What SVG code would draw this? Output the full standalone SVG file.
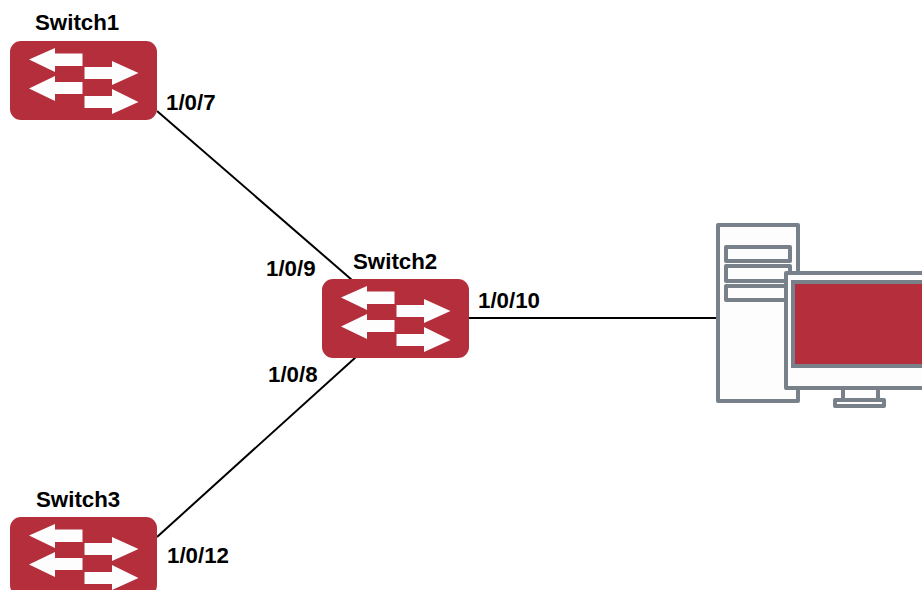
<svg xmlns="http://www.w3.org/2000/svg" width="922" height="590" viewBox="0 0 922 590">
<style>
text{font-family:"Liberation Sans",Arial,sans-serif;font-weight:bold;font-size:22.3px;fill:#000}
.body{fill:#b52e3c}
.arr{fill:#fdfdfd}
.ln{stroke:#000;stroke-width:2;fill:none}
.g{fill:#fdfdfd;stroke:#78808a;stroke-width:4;stroke-linejoin:round}
</style>
<defs>
<g id="sw">
<rect class="body" width="147" height="79" rx="11" ry="11"/>
<path class="arr" d="M19 18.500L45 7V12.500H72.500V25H45V31Z"/>
<path class="arr" d="M19 47.500L45 35V41H72.500V53H45V60Z"/>
<path class="arr" d="M128.500 32L102 20V26H74.500V38H102V44Z"/>
<path class="arr" d="M128.500 61L102 48V55H74.500V67H102V73Z"/>
</g>
</defs>
<rect width="922" height="590" fill="#fff"/>
<g id="connectors">
<line class="ln" x1="157" y1="111" x2="352" y2="280"/>
<line class="ln" x1="157" y1="537" x2="356" y2="357"/>
<line class="ln" x1="469" y1="318" x2="717" y2="318"/>
</g>
<g id="switch1"><use href="#sw" x="10" y="41"/><text x="35" y="30">Switch1</text><text x="166" y="110">1/0/7</text></g>
<g id="switch2"><use href="#sw" x="322" y="279"/><text x="353" y="269">Switch2</text><text x="266" y="276">1/0/9</text><text x="268" y="382">1/0/8</text><text x="478" y="308">1/0/10</text></g>
<g id="switch3"><use href="#sw" x="10" y="517"/><text x="36" y="507">Switch3</text><text x="167" y="563">1/0/12</text></g>
<g id="computer">
<rect class="g" x="718" y="225" width="80" height="176"/>
<rect class="g" x="726" y="247" width="64" height="14"/>
<rect class="g" x="726" y="266" width="64" height="15"/>
<rect class="g" x="726" y="286" width="64" height="14"/>
<rect class="g" x="843" y="388" width="35" height="12"/>
<rect class="g" x="835" y="400" width="49" height="6"/>
<rect class="g" x="786" y="273" width="150" height="115"/>
<rect x="793" y="282" width="140" height="84" fill="#b52e3c" stroke="#78808a" stroke-width="4"/>
</g>
</svg>
